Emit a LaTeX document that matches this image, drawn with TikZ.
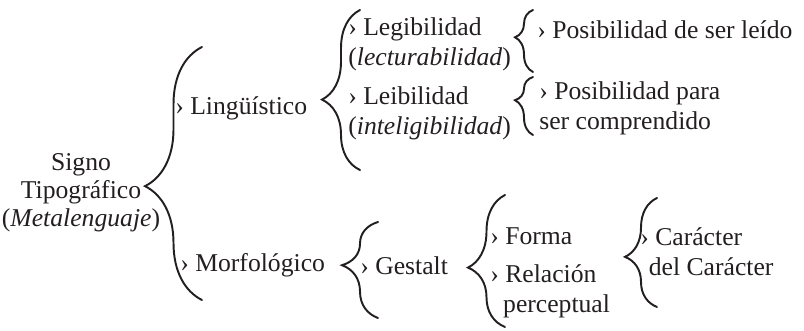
\documentclass[tikz,border=0pt]{standalone}
\usepackage{fontspec}
\setmainfont{Liberation Serif}
\usepackage{tikz}
\usetikzlibrary{decorations.pathreplacing, positioning}
\definecolor{myink}{RGB}{35,31,32}
\tikzset{
  txt/.style={inner sep=0pt, anchor=west, align=left, text=myink, font=\fontsize{14.6}{17}\selectfont},
  brc/.style 2 args={draw=myink, line width=1.1pt, line cap=round, decorate, decoration={brace, amplitude=#1, aspect=#2}}
}
\begin{document}
\begin{tikzpicture}[x=0.02cm, y=-0.02cm]
  \useasboundingbox (0,0) rectangle (804,331);
  % Signo (Left)
  \node[txt, anchor=center, align=center, font=\fontsize{14.6}{16}\selectfont] (signo) at (81,193) {Signo\\Tipográfico\\(\textit{Metalenguaje})};

  % First level
  \node[txt] (ling) at (175,108) {› Lingüístico};
  \node[txt] (morf) at (180,265) {› Morfológico};

  % Lingüístico branch
  \node[txt] (legi) at (348,44) {› Legibilidad\\(\textit{lecturabilidad})};
  \node[txt] (leib) at (348,113) {› Leibilidad\\(\textit{inteligibilidad})};
  \node[txt] (posi1) at (537,30) {› Posibilidad de ser leído};
  \node[txt] (posi2) at (539,108) {› Posibilidad para\\ser comprendido};

  % Morfológico branch
  \node[txt] (gest) at (360,266) {› Gestalt};
  \node[txt] (forma) at (490,236) {› Forma};
  \node[txt] (relac) at (490,291) {› Relación\\\hphantom{›\,}perceptual};
  \node[txt] (carac) at (640,252) {› Carácter\\\hphantom{›}del Carácter};

  % Brace ends
  \coordinate (b1s) at (202,300); \coordinate (b1e) at (202,47);
  \coordinate (b2s) at (360,170); \coordinate (b2e) at (360,10);
  \coordinate (b3s) at (533,72);  \coordinate (b3e) at (533,10);
  \coordinate (b4s) at (533,135); \coordinate (b4e) at (533,77);
  \coordinate (b5s) at (378,318); \coordinate (b5e) at (378,222);
  \coordinate (b6s) at (505,327); \coordinate (b6e) at (505,195);
  \coordinate (b7s) at (657,307); \coordinate (b7e) at (657,198);

  % Braces
  \draw[brc={1.14cm}{0.45}] (b1s) -- (b1e);
  \draw[brc={0.76cm}{0.44}] (b2s) -- (b2e);
  \draw[brc={0.36cm}{0.56}] (b3s) -- (b3e);
  \draw[brc={0.36cm}{0.6}] (b4s) -- (b4e);
  \draw[brc={0.72cm}{0.55}] (b5s) -- (b5e);
  \draw[brc={0.74cm}{0.45}] (b6s) -- (b6e);
  \draw[brc={0.64cm}{0.46}] (b7s) -- (b7e);
\end{tikzpicture}
\end{document}
